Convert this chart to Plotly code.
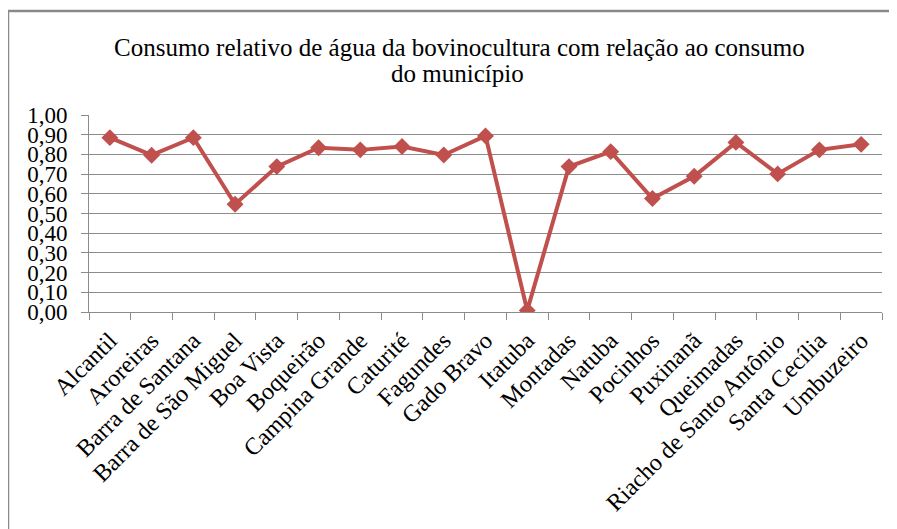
import plotly.graph_objects as go

municipios = ["Alcantil", "Aroreiras", "Barra de Santana", "Barra de São Miguel", "Boa Vista",
              "Boqueirão", "Campina Grande", "Caturité", "Fagundes", "Gado Bravo", "Itatuba",
              "Montadas", "Natuba", "Pocinhos", "Puxinanã", "Queimadas",
              "Riacho de Santo Antônio", "Santa Cecília", "Umbuzeiro"]
consumo_relativo = [0.885, 0.796, 0.885, 0.547, 0.738, 0.834, 0.823, 0.840, 0.797, 0.894,
                    0.008, 0.738, 0.814, 0.576, 0.689, 0.861, 0.701, 0.823, 0.851]
titulo_linhas = ["Consumo relativo de água da bovinocultura com relação ao consumo",
                 "do município"]

OFF = 8  # page body margin
W, H = 897 - OFF, 529 - OFF
L, R, T, B = 89 - OFF, 15, 115 - OFF, 217
pw, ph = W - L - R, H - T - B
FONT = "Liberation Serif"
RED = "#C0504D"
GRID = "#8C8C8C"

fig = go.Figure()
fig.add_trace(go.Scatter(
    x=municipios, y=consumo_relativo, mode="lines+markers",
    line=dict(color=RED, width=4),
    marker=dict(symbol="diamond", size=13, color=RED),
    showlegend=False, hoverinfo="x+y"))

def px_x(p):
    return (p - OFF - L) / pw

def px_y(p):
    return (H - B - (p - OFF)) / ph

annotations = [
    dict(text=titulo_linhas[0], xref="paper", yref="paper", x=px_x(459.5), y=px_y(47),
         xanchor="center", yanchor="middle", showarrow=False,
         font=dict(family=FONT, size=25, color="black")),
    dict(text=titulo_linhas[1], xref="paper", yref="paper", x=px_x(457), y=px_y(73),
         xanchor="center", yanchor="middle", showarrow=False,
         font=dict(family=FONT, size=25, color="black")),
]

fig.update_layout(
    width=W, height=H,
    margin=dict(l=L, r=R, t=T, b=B, autoexpand=False),
    paper_bgcolor="white", plot_bgcolor="white",
    font=dict(family=FONT, color="black"),
    separators=",.",
    annotations=annotations,
    xaxis=dict(type="category", showgrid=False, showline=True, linecolor=GRID, linewidth=1,
               ticks="outside", tickson="boundaries", ticklen=7, tickcolor=GRID,
               ticklabelstandoff=4,
               tickangle=-45, tickfont=dict(family=FONT, size=24, color="black"),
               range=[-0.5, len(municipios) - 0.5], fixedrange=True),
    yaxis=dict(range=[0, 1], dtick=0.1, tick0=0, tickformat=".2f",
               showgrid=True, gridcolor=GRID, gridwidth=1,
               showline=True, linecolor=GRID, linewidth=1,
               ticks="outside", ticklen=7, tickcolor=GRID,
               ticklabelstandoff=9,
               tickfont=dict(family=FONT, size=23, color="black"),
               zeroline=False, fixedrange=True),
    shapes=[
        dict(type="line", xref="paper", yref="paper",
             x0=px_x(8), x1=px_x(8), y0=px_y(10), y1=px_y(540),
             line=dict(color="#8A8A8A", width=2.5)),
        dict(type="line", xref="paper", yref="paper",
             x0=px_x(7), x1=px_x(905), y0=px_y(11), y1=px_y(11),
             line=dict(color="#8A8A8A", width=2.5)),
    ],
)

fig.write_html("out.html")
